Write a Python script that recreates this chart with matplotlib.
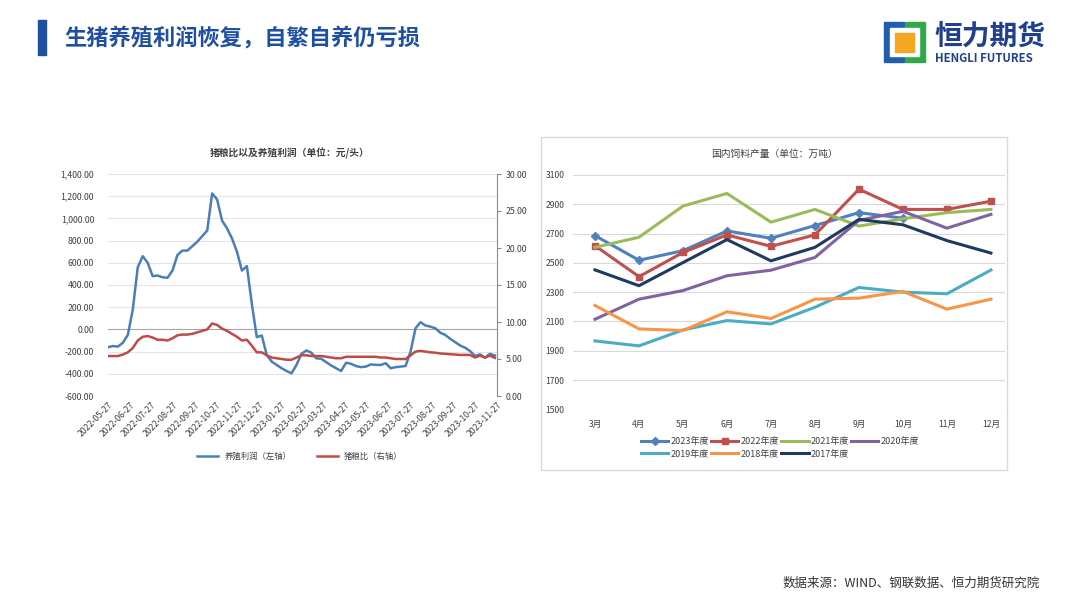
import matplotlib
matplotlib.use('Agg')
import matplotlib.pyplot as plt
import matplotlib.patches as mpatches
from matplotlib.lines import Line2D
import pandas as pd

plt.rcParams['font.family'] = ['Noto Sans CJK SC', 'DejaVu Sans']
plt.rcParams['axes.unicode_minus'] = False

W, H = 1080, 607

# 左图：养殖利润（元/头，左轴）与猪粮比（右轴），周度
dates = pd.date_range("2022-05-27", periods=79, freq="7D")
profit = [-160, -150, -155, -120, -50, 180, 560, 660, 600, 480,
          485, 470, 465, 530, 670, 710, 710, 750, 790, 840,
          890, 1225, 1170, 980, 910, 820, 700, 530, 570, 230,
          -70, -55, -230, -290, -320, -350, -375, -395, -320, -220,
          -190, -210, -260, -265, -295, -325, -350, -375, -300, -310,
          -330, -340, -335, -315, -320, -320, -305, -350, -340, -335,
          -330, -200, 10, 65, 35, 25, 10, -30, -50, -85,
          -115, -145, -165, -195, -240, -225, -255, -220, -235]
ratio = [5.4, 5.4, 5.4, 5.6, 5.9, 6.5, 7.5, 8.0, 8.1, 7.9,
         7.6, 7.6, 7.5, 7.8, 8.2, 8.3, 8.3, 8.4, 8.6, 8.8,
         9.0, 9.8, 9.6, 9.1, 8.8, 8.4, 8.0, 7.5, 7.6, 6.8,
         5.9, 5.9, 5.5, 5.2, 5.1, 5.0, 4.9, 4.9, 5.2, 5.5,
         5.5, 5.4, 5.4, 5.4, 5.3, 5.2, 5.1, 5.1, 5.3, 5.3,
         5.3, 5.3, 5.3, 5.3, 5.3, 5.2, 5.2, 5.1, 5.0, 5.0,
         5.0, 5.5, 6.0, 6.1, 6.0, 5.9, 5.85, 5.75, 5.7, 5.65,
         5.6, 5.55, 5.55, 5.55, 5.2, 5.45, 5.2, 5.45, 5.15]
tick_dates = ["2022-05-27", "2022-06-27", "2022-07-27", "2022-08-27", "2022-09-27",
              "2022-10-27", "2022-11-27", "2022-12-27", "2023-01-27", "2023-02-27",
              "2023-03-27", "2023-04-27", "2023-05-27", "2023-06-27", "2023-07-27",
              "2023-08-27", "2023-09-27", "2023-10-27", "2023-11-27"]

# 右图：国内饲料产量（万吨）
months = ["3月", "4月", "5月", "6月", "7月", "8月", "9月", "10月", "11月", "12月"]
feed = {
    "2023年度": [2686, 2518, 2583, 2718, 2668, 2755, 2843, 2805],
    "2022年度": [2617, 2406, 2571, 2691, 2613, 2691, 3003, 2865, 2865, 2921],
    "2021年度": [2606, 2675, 2888, 2974, 2778, 2865, 2751, 2801, 2843, 2865],
    "2020年度": [2115, 2252, 2311, 2412, 2450, 2537, 2790, 2852, 2737, 2831],
    "2019年度": [1967, 1933, 2042, 2106, 2083, 2197, 2332, 2300, 2289, 2451],
    "2018年度": [2209, 2049, 2038, 2166, 2120, 2252, 2259, 2305, 2184, 2252],
    "2017年度": [2452, 2344, 2502, 2659, 2514, 2606, 2797, 2760, 2652, 2567],
}
feed_colors = {
    "2023年度": "#4F81BD", "2022年度": "#C0504D", "2021年度": "#9BBB59",
    "2020年度": "#8064A2", "2019年度": "#4BACC6", "2018年度": "#F79646",
    "2017年度": "#1F3A5F",
}
feed_markers = {"2023年度": "D", "2022年度": "s"}


def px(x0, y0, x1, y1):
    # 像素框 -> figure 坐标 [left, bottom, width, height]
    return [x0 / W, 1 - y1 / H, (x1 - x0) / W, (y1 - y0) / H]


fig = plt.figure(figsize=(W / 100, H / 100), dpi=100, facecolor='white')

# ---------- 页眉 ----------
fig.patches.append(mpatches.Rectangle((38 / W, 1 - 55 / H), 8 / W, 35 / H,
                                      transform=fig.transFigure, color='#1E4FA0'))
fig.text(64 / W, 1 - 38 / H, "生猪养殖利润恢复，自繁自养仍亏损", fontsize=16,
         fontweight='bold', color='#1E4FA0', va='center', ha='left')

# logo
for (x0, y0, x1, y1, c) in [(884, 22, 904, 62, '#1F5FB0'), (905, 22, 925, 62, '#2EA84A'),
                            (890, 28, 919, 56, 'white'), (895, 33, 914, 52, '#F5A623')]:
    fig.patches.append(mpatches.Rectangle((x0 / W, 1 - y1 / H), (x1 - x0) / W, (y1 - y0) / H,
                                          transform=fig.transFigure, color=c))
fig.text(934 / W, 1 - 37 / H, "恒力期货", fontsize=20, fontweight='bold',
         color='#1F3F8F', va='center', ha='left')
fig.text(935 / W, 1 - 58 / H, "HENGLI FUTURES", fontsize=8.2, fontweight='bold',
         color='#1F3F8F', va='center', ha='left')

# ---------- 左图 ----------
ax = fig.add_axes(px(108, 174, 497, 396))
ax2 = ax.twinx()
ax.plot(dates, profit, color='#4A7EBB', lw=1.8, zorder=3)
ax2.plot(dates, ratio, color='#BE4B48', lw=1.8, zorder=3)
ax.set_ylim(-600, 1400)
ax.set_yticks(range(-600, 1401, 200))
ax.set_yticklabels([f"{v:,.2f}" for v in range(-600, 1401, 200)])
ax2.set_ylim(0, 30)
ax2.set_yticks(range(0, 31, 5))
ax2.set_yticklabels([f"{v:.2f}" for v in range(0, 31, 5)])
tick_pos = pd.to_datetime(tick_dates)
ax.set_xlim(tick_pos[0], tick_pos[-1])
ax.set_xticks(tick_pos)
ax.set_xticklabels(tick_dates, rotation=45, ha='right', rotation_mode='anchor')
for v in range(-600, 1401, 200):
    ax.axhline(v, color='#A6A6A6' if v == 0 else '#E4E4E4', lw=0.8, zorder=1)
for a in (ax, ax2):
    for s in a.spines.values():
        s.set_visible(False)
ax2.spines['right'].set_visible(True)
ax2.spines['right'].set_color('#8C8C8C')
ax.tick_params(axis='both', labelsize=6.3, colors='#404040', length=0)
ax.tick_params(axis='y', pad=10)
ax.tick_params(axis='x', pad=3)
ax2.tick_params(axis='y', labelsize=6.3, colors='#404040', length=3, pad=3, color='#8C8C8C')
fig.text(290 / W, 1 - 153 / H, "猪粮比以及养殖利润（单位：元/头）", fontsize=7,
         fontweight='bold', color='#404040', ha='center', va='center')
fig.legend(handles=[Line2D([], [], color='#4A7EBB', lw=1.8, label='养殖利润（左轴）'),
                    Line2D([], [], color='#BE4B48', lw=1.8, label='猪粮比（右轴）')],
           loc='center', bbox_to_anchor=(300 / W, 1 - 456 / H), ncol=2, frameon=False,
           fontsize=6, handlelength=2.5, columnspacing=3, labelcolor='#404040')

# ---------- 右图 ----------
fig.patches.append(mpatches.Rectangle((541 / W, 1 - 470 / H), 466 / W, 333 / H,
                                      transform=fig.transFigure, fill=False,
                                      edgecolor='#D9D9D9', lw=1))
bx = fig.add_axes(px(573, 175, 1005, 409.3))
xs = list(range(len(months)))
for name, vals in feed.items():
    m = feed_markers.get(name)
    bx.plot(xs[:len(vals)], vals, color=feed_colors[name], lw=2.2, zorder=3,
            marker=m, markersize=5 if m == 's' else 4, label=name)
bx.set_xlim(-0.5, 9.32)
bx.set_ylim(1500, 3100)
bx.set_yticks(range(1500, 3101, 200))
bx.set_xticks(xs)
bx.set_xticklabels(months)
bx.grid(axis='y', color='#D9D9D9', lw=0.8, zorder=0)
for s in bx.spines.values():
    s.set_visible(False)
bx.tick_params(axis='both', labelsize=6.2, colors='#404040', length=0)
bx.tick_params(axis='y', pad=6)
bx.tick_params(axis='x', pad=8)
fig.text(775 / W, 1 - 154 / H, "国内饲料产量（单位：万吨）", fontsize=7,
         color='#404040', ha='center', va='center')
h, l = bx.get_legend_handles_labels()
order = [0, 4, 1, 5, 2, 6, 3]  # 按行排列：前4个在第一行
fig.legend([h[i] for i in order], [l[i] for i in order], loc='center',
           bbox_to_anchor=(780 / W, 1 - 448 / H), ncol=4,
           frameon=False, fontsize=6.5, handlelength=3.0, columnspacing=0.3,
           handletextpad=0.2, labelspacing=0.35, labelcolor='#404040')

# ---------- 数据来源 ----------
fig.text(1040 / W, 1 - 583 / H, "数据来源：WIND、钢联数据、恒力期货研究院", fontsize=9,
         color='#333333', ha='right', va='center')

fig.savefig("out.png", dpi=100)
